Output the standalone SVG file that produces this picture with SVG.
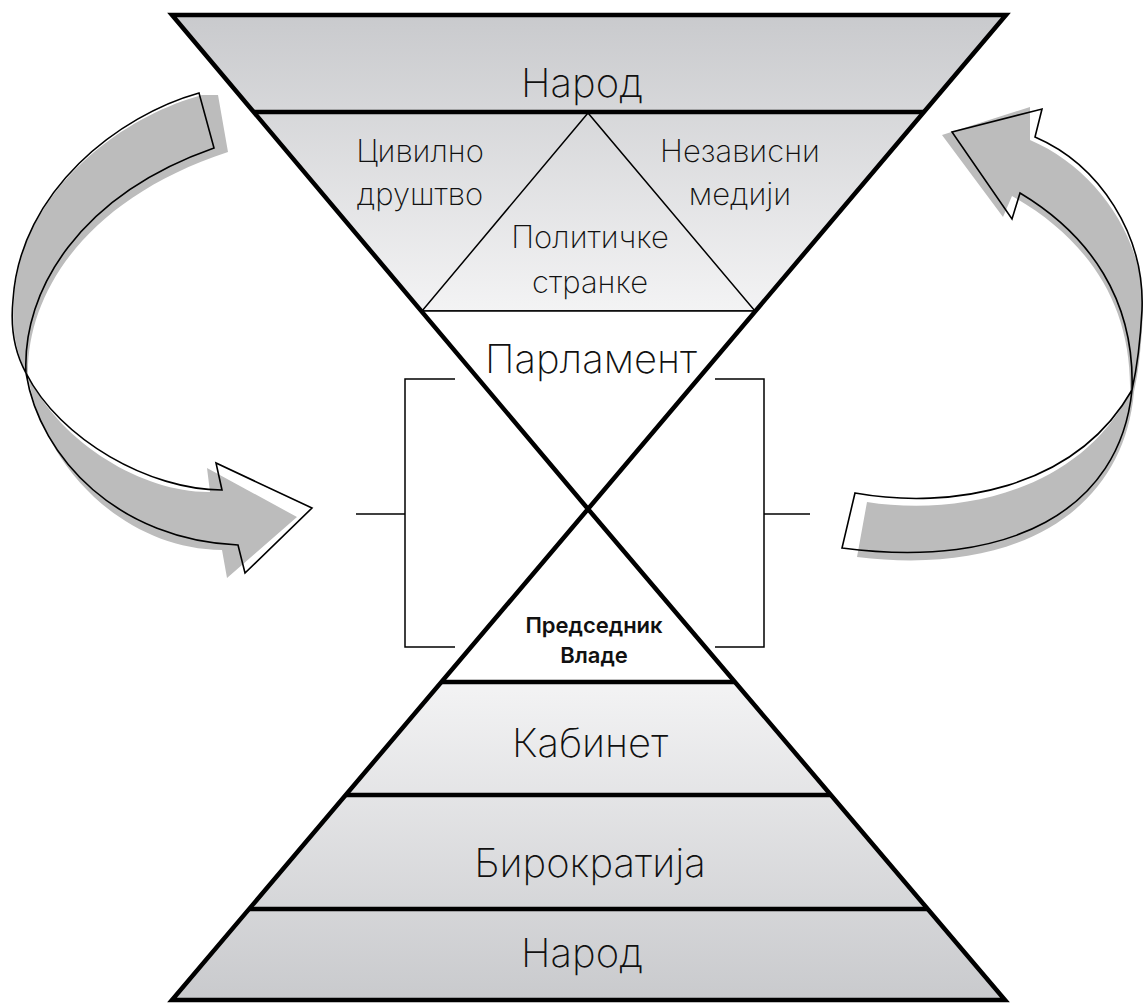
<svg xmlns="http://www.w3.org/2000/svg" width="1143" height="1003" viewBox="0 0 1143 1003">
  <defs>
    <linearGradient id="gTop" gradientUnits="userSpaceOnUse" x1="0" y1="15" x2="0" y2="311">
      <stop offset="0" stop-color="#c9cacd"/>
      <stop offset="1" stop-color="#f3f3f4"/>
    </linearGradient>
    <linearGradient id="gBot" gradientUnits="userSpaceOnUse" x1="0" y1="682" x2="0" y2="1000">
      <stop offset="0" stop-color="#f3f3f4"/>
      <stop offset="1" stop-color="#c9cacd"/>
    </linearGradient>
    <style>
      .lbl { font-family: Inter, "Noto Sans", "DejaVu Sans", sans-serif; font-weight: 250; fill: #111; text-anchor: middle; }
      .big { font-size: 40px; }
      .mid { font-size: 31px; }
      .bold { font-family: Inter, "Noto Sans", "DejaVu Sans", sans-serif; font-weight: 600; font-size: 22px; fill: #111; text-anchor: middle; }
      .thick { stroke: #000; stroke-width: 4.5; fill: none; }
      .thin { stroke: #000; stroke-width: 1.5; fill: none; }
      .bracket { stroke: #000; stroke-width: 1.5; fill: none; }
      .arrowBase { fill: #fff; stroke: none; }
      .arrowShade { fill: #bcbcbc; stroke: none; }
      .arrowLine { fill: none; stroke: #000; stroke-width: 1.6; stroke-linejoin: miter; }
    </style>
  </defs>

  <g id="narod-top">
    <polygon points="172,15 1006,15 924,112 254,112" fill="url(#gTop)"/>
    <text class="lbl big" x="582" y="97">Народ</text>
  </g>
  <g id="civil-society">
    <polygon points="254,112 924,112 756,311 421,311" fill="url(#gTop)"/>
    <text class="lbl mid" x="420" y="162">Цивилно</text>
    <text class="lbl mid" x="420" y="205">друштво</text>
  </g>
  <g id="independent-media">
    <text class="lbl mid" x="740" y="162">Независни</text>
    <text class="lbl mid" x="740" y="205">медији</text>
  </g>
  <g id="political-parties">
    <polygon points="588,113 422,311 755,311" fill="url(#gTop)" class="thin"/>
    <text class="lbl mid" x="590" y="248">Политичке</text>
    <text class="lbl mid" x="590" y="293">странке</text>
  </g>
  <g id="parliament">
    <polygon points="421,311 756,311 588,509" fill="#fff"/>
    <line class="thin" x1="421" y1="311" x2="756" y2="311"/>
    <text class="lbl big" x="591" y="373">Парламент</text>
  </g>
  <g id="prime-minister">
    <polygon points="588,509 735,682 441,682" fill="#fff"/>
    <text class="bold" x="594" y="633">Председник</text>
    <text class="bold" x="594" y="663">Владе</text>
  </g>
  <g id="cabinet">
    <polygon points="441,682 735,682 831,795 346,795" fill="url(#gBot)"/>
    <text class="lbl big" x="590" y="757">Кабинет</text>
  </g>
  <g id="bureaucracy">
    <polygon points="346,795 831,795 928,909 249,909" fill="url(#gBot)"/>
    <text class="lbl big" x="590" y="877">Бирократија</text>
  </g>
  <g id="narod-bottom">
    <polygon points="249,909 928,909 1005,1000 172,1000" fill="url(#gBot)"/>
    <text class="lbl big" x="582" y="967">Народ</text>
  </g>

  <g id="hourglass-outline">
    <polygon class="thick" points="172,15 1006,15 588,509" stroke-width="5"/>
    <polygon class="thick" points="588,509 1005,1000 172,1000" stroke-width="5"/>
    <line class="thick" x1="254" y1="112" x2="924" y2="112"/>
    <line class="thick" x1="441" y1="682" x2="735" y2="682"/>
    <line class="thick" x1="346" y1="795" x2="831" y2="795"/>
    <line class="thick" x1="249" y1="909" x2="928" y2="909"/>
  </g>

  <g id="connectors">
    <polyline class="bracket" points="455,379 405,379 405,647 455,647"/>
    <line class="bracket" x1="356" y1="514" x2="405" y2="514"/>
    <polyline class="bracket" points="715,379 764,379 764,647 715,647"/>
    <line class="bracket" x1="764" y1="514" x2="810" y2="514"/>

    <g id="arrow-left">
      <path class="arrowBase" d="M199,93 C120,115 20,190 13,300 C10,330 16,355 26,373 C40,460 120,540 238,545 L245,573 L312,508 L216,463 L222,490 C150,490 60,440 26,373 C22,290 80,195 214,148 Z"/>
      <path class="arrowShade" d="M202,95 C121,117 20,191 14,300 C11,330 17,356 28,376 C43,466 123,549 222,550 L227,578 L297,517 L207,468 L210,492 C145,493 62,445 28,376 C26,294 85,199 228,152 L218,95 Z"/>
      <path class="arrowLine" d="M199,93 C120,115 20,190 13,300 C10,330 16,355 26,373 C40,460 120,540 238,545 L245,573 L312,508 L216,463 L222,490 C150,490 60,440 26,373 C22,290 80,195 214,148 Z"/>
    </g>
    <g id="arrow-right">
      <path class="arrowBase" d="M1035,137 C1100,165 1145,235 1142,310 C1140,350 1136,372 1132,390 C1120,510 1010,570 842,548 L855,493 C950,510 1075,490 1132,390 C1135,300 1090,235 1020,193 L1012,219 L952,132 L1042,109 Z"/>
      <path class="arrowShade" d="M1030,140 C1096,168 1145,238 1143,312 C1141,352 1138,374 1134,392 C1123,514 1013,576 857,557 L867,502 C955,516 1077,494 1130,393 C1132,302 1086,238 1012,196 L1003,217 L942,135 L1030,107 Z"/>
      <path class="arrowLine" d="M1035,137 C1100,165 1145,235 1142,310 C1140,350 1136,372 1132,390 C1120,510 1010,570 842,548 L855,493 C950,510 1075,490 1132,390 C1135,300 1090,235 1020,193 L1012,219 L952,132 L1042,109 Z"/>
    </g>
  </g>
</svg>
